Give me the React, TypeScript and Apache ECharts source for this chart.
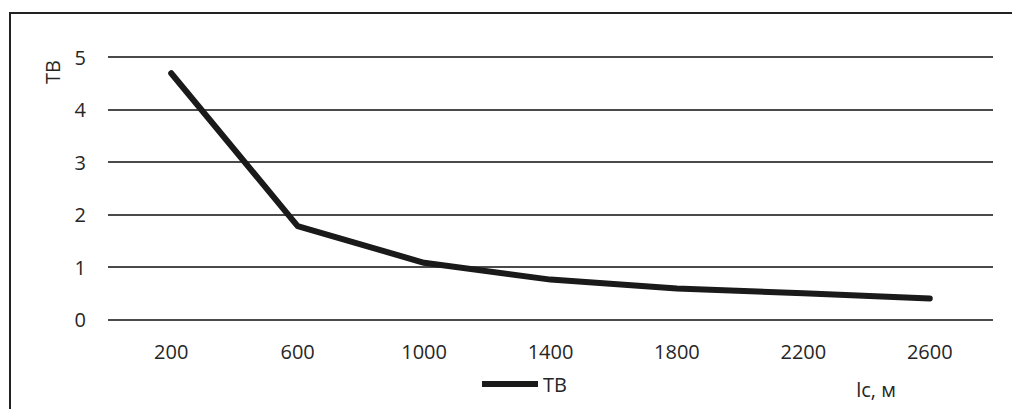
import React, { useEffect, useRef } from "react";
import * as echarts from "echarts";

// Cable length categories (lc, m) and the TB value at each one
const lengths = ["200", "600", "1000", "1400", "1800", "2200", "2600"];
const tbValues = [4.69, 1.78, 1.08, 0.76, 0.59, 0.5, 0.4];
const seriesName = "ТВ";
const yAxisTitle = "ТВ";
const xAxisTitle = "lc, м";

const FONT = "'Open Sans', 'Noto Sans', sans-serif";
const TEXT = "#262626";

export default function App() {
  const ref = useRef<HTMLDivElement>(null);

  useEffect(() => {
    if (!ref.current) return;
    const chart = echarts.init(ref.current, null, { renderer: "svg" });
    chart.setOption({
      animation: false,
      backgroundColor: "#ffffff",
      textStyle: { fontFamily: FONT, color: TEXT },
      grid: { left: 108, right: 19, top: 57, bottom: 89.5 },
      legend: {
        data: [{ name: seriesName, icon: "rect" }],
        left: 477,
        top: 369,
        itemWidth: 56,
        itemHeight: 6,
        textStyle: { fontFamily: FONT, fontSize: 20, color: TEXT },
      },
      xAxis: {
        type: "category",
        data: lengths,
        boundaryGap: true,
        axisLine: { show: false },
        axisTick: { show: false },
        axisLabel: { fontFamily: FONT, fontSize: 20, color: TEXT, margin: 22 },
      },
      yAxis: {
        type: "value",
        min: 0,
        max: 5,
        interval: 1,
        axisLine: { show: false },
        axisTick: { show: false },
        axisLabel: { fontFamily: FONT, fontSize: 20, color: TEXT, margin: 22 },
        splitLine: { lineStyle: { color: "#4a4a4a", width: 2 } },
      },
      series: [
        {
          name: seriesName,
          type: "line",
          data: tbValues,
          symbol: "none",
          lineStyle: { color: "#1a1a1a", width: 6, cap: "round", join: "round" },
          itemStyle: { color: "#1a1a1a" },
        },
      ],
      graphic: [
        {
          type: "line",
          shape: { x1: 10, y1: 13, x2: 10, y2: 409 },
          style: { stroke: "#222222", lineWidth: 2 },
        },
        {
          type: "line",
          shape: { x1: 9, y1: 13, x2: 1012, y2: 13 },
          style: { stroke: "#222222", lineWidth: 2 },
        },
        {
          type: "text",
          x: 52,
          y: 72,
          rotation: Math.PI / 2,
          style: {
            text: yAxisTitle,
            fontFamily: FONT,
            fontSize: 20,
            fill: TEXT,
            align: "center",
            verticalAlign: "middle",
          },
        },
        {
          type: "text",
          x: 876,
          y: 389,
          style: {
            text: xAxisTitle,
            fontFamily: FONT,
            fontSize: 20,
            fill: TEXT,
            align: "center",
            verticalAlign: "middle",
          },
        },
      ],
    });
    return () => chart.dispose();
  }, []);

  return (
    <div
      ref={ref}
      style={{ position: "fixed", left: 0, top: 0, width: 1012, height: 409 }}
    />
  );
}
